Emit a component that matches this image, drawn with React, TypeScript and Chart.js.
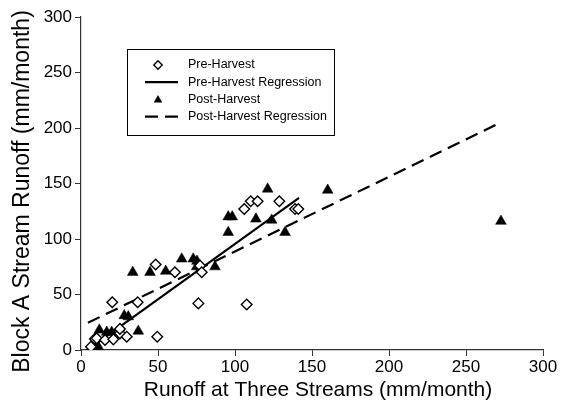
import React, { useEffect, useRef } from "react";
import { Chart, registerables } from "chart.js";

Chart.register(...registerables);

// Pre-harvest observations (mm/month)
const preX = [6.5, 9, 10.2, 15.6, 21, 25.3, 25.3, 29.7, 49.5, 20.3, 36.8, 48.5, 61, 77.3, 78.4, 76.2, 107.6, 106, 110.2, 114.7, 128.8, 139, 141.1];
const preY = [3, 10, 10.5, 9, 9.6, 15, 19, 12, 12, 43, 43, 77, 70, 76, 70, 42, 41, 127, 134, 134, 134, 127, 127];

// Post-harvest observations (mm/month)
const postX = [6.9, 11.2, 11.9, 16.7, 19.9, 28.1, 30.7, 37.2, 33.6, 44.8, 55, 65.4, 72.9, 75.3, 75.1, 87, 95.6, 98.2, 95.6, 113.6, 121.2, 123.8, 132.5, 160.2, 272.7];
const postY = [3, 3, 18, 16, 16, 31, 30, 17, 70, 70, 71, 82, 82, 80, 75, 75, 120, 120, 106, 118, 145, 117, 106, 144, 116];

// Regression line end points
const preRegX = [5.2, 141.6];
const preRegY = [1, 137];
const postRegX = [4.5, 272.7];
const postRegY = [24.5, 205];

// Axis ticks
const axisMin = 0;
const axisMax = 300;
const axisStep = 50;

const labels = ["Pre-Harvest", "Pre-Harvest Regression", "Post-Harvest", "Post-Harvest Regression"];
const xTitle = "Runoff at Three Streams (mm/month)";
const yTitle = "Block A Stream Runoff (mm/month)";

const FONT = "'Liberation Sans', Arial, Helvetica, sans-serif";

const toPts = (xs: number[], ys: number[]) => xs.map((x, i) => ({ x, y: ys[i] }));

const annotationPlugin = {
  id: "insetLegendAndTitles",
  afterDraw(chart: any) {
    const ctx = chart.ctx as CanvasRenderingContext2D;
    ctx.save();
    // axis titles
    ctx.fillStyle = "#000";
    ctx.textAlign = "center";
    ctx.textBaseline = "middle";
    ctx.font = `21px ${FONT}`;
    const area = chart.chartArea;
    ctx.fillText(xTitle, (area.left + area.right) / 2 + 6, 390);
    ctx.save();
    ctx.translate(23, (area.top + area.bottom) / 2 + 8);
    ctx.rotate(-Math.PI / 2);
    ctx.font = `23px ${FONT}`;
    ctx.fillText(yTitle, 0, 0);
    ctx.restore();

    // legend
    ctx.strokeStyle = "#000";
    ctx.lineWidth = 1;
    ctx.setLineDash([]);
    ctx.strokeRect(127.5, 49.5, 207, 86);
    ctx.font = `12.5px ${FONT}`;
    ctx.textBaseline = "middle";
    ctx.textAlign = "left";
    chart.data.datasets.forEach((ds: any, i: number) => {
      const cy = 65 + i * 17.2;
      const cx = 158;
      if (ds.showLine) {
        ctx.save();
        ctx.strokeStyle = ds.borderColor;
        ctx.lineWidth = ds.borderWidth;
        ctx.setLineDash(ds.borderDash || []);
        ctx.beginPath();
        ctx.moveTo(145, cy);
        ctx.lineTo(178, cy);
        ctx.stroke();
        ctx.restore();
      } else if (ds.pointStyle === "rectRot") {
        const r = 4.2;
        ctx.save();
        ctx.strokeStyle = "#000";
        ctx.fillStyle = "#fff";
        ctx.lineWidth = 1.4;
        ctx.beginPath();
        ctx.moveTo(cx, cy - r);
        ctx.lineTo(cx + r, cy);
        ctx.lineTo(cx, cy + r);
        ctx.lineTo(cx - r, cy);
        ctx.closePath();
        ctx.fill();
        ctx.stroke();
        ctx.restore();
      } else {
        const r = 4.5;
        ctx.save();
        ctx.fillStyle = "#000";
        ctx.beginPath();
        ctx.moveTo(cx, cy - r);
        ctx.lineTo(cx + r * 0.95, cy + r * 0.7);
        ctx.lineTo(cx - r * 0.95, cy + r * 0.7);
        ctx.closePath();
        ctx.fill();
        ctx.restore();
      }
      ctx.fillStyle = "#000";
      ctx.fillText(ds.label, 188, cy);
    });
    ctx.restore();
  },
};

export default function App() {
  const ref = useRef<HTMLCanvasElement | null>(null);

  useEffect(() => {
    if (!ref.current) return;
    const axisCommon = {
      type: "linear" as const,
      min: axisMin,
      max: axisMax,
      grid: {
        display: true,
        drawOnChartArea: false,
        drawTicks: true,
        tickLength: 6,
        color: "#333",
        lineWidth: 1,
      },
      border: { display: true, color: "#333", width: 1.2 },
    };
    const chart = new Chart(ref.current, {
      type: "scatter",
      data: {
        datasets: [
          {
            label: labels[0],
            data: toPts(preX, preY),
            pointStyle: "rectRot",
            pointRadius: 5.3,
            borderColor: "#000",
            backgroundColor: "#fff",
            borderWidth: 1.4,
            order: 0,
          },
          {
            label: labels[1],
            type: "line",
            data: toPts(preRegX, preRegY),
            showLine: true,
            pointRadius: 0,
            borderColor: "#000",
            borderWidth: 2.2,
            fill: false,
            order: 2,
          },
          {
            label: labels[2],
            data: toPts(postX, postY),
            pointStyle: "triangle",
            pointRadius: 6.2,
            borderColor: "#000",
            backgroundColor: "#000",
            borderWidth: 0.5,
            order: 1,
          },
          {
            label: labels[3],
            type: "line",
            data: toPts(postRegX, postRegY),
            showLine: true,
            pointRadius: 0,
            borderColor: "#000",
            borderWidth: 2.2,
            borderDash: [13, 7],
            fill: false,
            order: 3,
          },
        ] as any,
      },
      options: {
        animation: false,
        responsive: false,
        maintainAspectRatio: false,
        layout: { padding: { left: 0, top: 17, right: 22, bottom: 0 } },
        plugins: {
          legend: { display: false },
          tooltip: { enabled: false },
        },
        scales: {
          x: {
            ...axisCommon,
            position: "bottom",
            ticks: {
              stepSize: axisStep,
              color: "#000",
              padding: 1,
              maxRotation: 0,
              autoSkip: false,
              font: { family: FONT, size: 17 },
            },
            title: { display: false, text: xTitle },
            afterFit(scale: any) {
              scale.height = 51;
              scale.paddingLeft = 0;
              scale.paddingRight = 0;
            },
          },
          y: {
            ...axisCommon,
            position: "left",
            ticks: {
              stepSize: axisStep,
              color: "#000",
              padding: 3,
              font: { family: FONT, size: 17 },
            },
            title: { display: false, text: yTitle },
            afterFit(scale: any) {
              scale.width = 81;
              scale.paddingTop = 0;
              scale.paddingBottom = 0;
            },
          },
        } as any,
      },
      plugins: [annotationPlugin],
    });
    return () => chart.destroy();
  }, []);

  return (
    <div style={{ position: "absolute", left: 0, top: 0, width: 565, height: 401, background: "#fff" }}>
      <canvas ref={ref} width={565} height={401} />
    </div>
  );
}
